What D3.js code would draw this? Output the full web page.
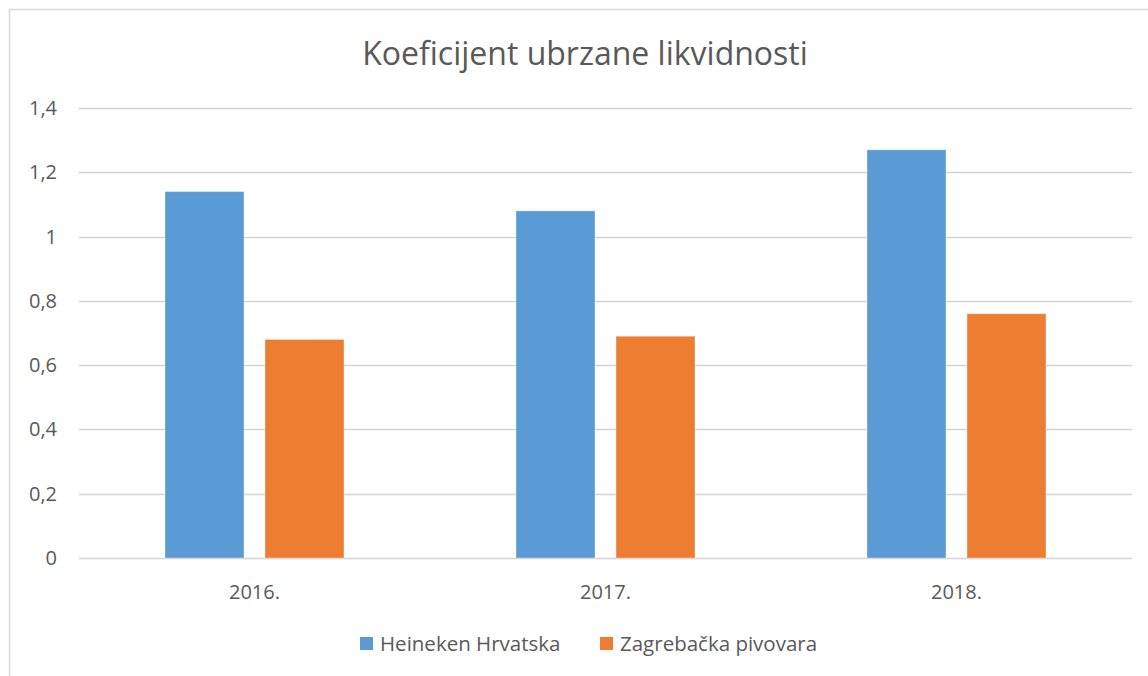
<!DOCTYPE html>
<html>
<head>
<meta charset="utf-8">
<script src="https://cdn.jsdelivr.net/npm/d3@7"></script>
<style>
  body { margin: 0; background: #fff; }
  text { font-family: "Open Sans", "Noto Sans", sans-serif; fill: #595959; }
</style>
</head>
<body>
<svg id="chart" width="1148" height="676"></svg>
<script>
// data
var years = ["2016.", "2017.", "2018."];
var seriesNames = ["Heineken Hrvatska", "Zagrebačka pivovara"];
var heineken = [1.14, 1.08, 1.27];
var zagrebacka = [0.68, 0.69, 0.76];
var yTicks = [0, 0.2, 0.4, 0.6, 0.8, 1, 1.2, 1.4];
var colors = ["#5B9BD5", "#ED7D31"];

var svg = d3.select("#chart");
var plotLeft = 79, plotRight = 1132, plotTop = 108, plotBottom = 558;

// chart border
svg.append("rect")
    .attr("x", 9.5).attr("y", 9.5)
    .attr("width", 1160).attr("height", 700)
    .style("fill", "none")
    .style("stroke", "#D9D9D9")
    .style("stroke-width", 1.5);

svg.append("text")
    .attr("x", 585).attr("y", 65)
    .attr("text-anchor", "middle")
    .style("font-size", "32px")
    .text("Koeficijent ubrzane likvidnosti");

var y = d3.scaleLinear().domain([0, 1.4]).range([plotBottom, plotTop]);
var x0 = d3.scaleBand().domain(years).range([plotLeft, plotRight]);
var x1 = d3.scaleBand().domain(seriesNames).range([86, x0.bandwidth() - 86]).paddingInner(0.21);

// gridlines
svg.append("g").selectAll("line")
    .data(yTicks)
    .enter().append("line")
    .attr("x1", plotLeft).attr("x2", plotRight)
    .attr("y1", function(d) { return Math.round(y(d)) + 0.5; })
    .attr("y2", function(d) { return Math.round(y(d)) + 0.5; })
    .style("stroke", "#D4D4D4")
    .style("stroke-width", 1.4);

svg.append("g").selectAll("text")
    .data(yTicks)
    .enter().append("text")
    .attr("x", 57)
    .attr("y", function(d) { return y(d) + 7; })
    .attr("text-anchor", "end")
    .style("font-size", "20px")
    .text(function(d) { return String(d).replace(".", ","); });

var rows = years.map(function(yr, i) {
    return { year: yr, vals: [heineken[i], zagrebacka[i]] };
});

var groups = svg.append("g").selectAll("g")
    .data(rows)
    .enter().append("g")
    .attr("transform", function(d) { return "translate(" + x0(d.year) + ",0)"; });

groups.selectAll("rect")
    .data(function(d) { return d.vals.map(function(v, j) { return { name: seriesNames[j], v: v, j: j }; }); })
    .enter().append("rect")
    .attr("x", function(d) { return x1(d.name); })
    .attr("y", function(d) { return y(d.v); })
    .attr("width", x1.bandwidth())
    .attr("height", function(d) { return plotBottom - y(d.v); })
    .style("fill", function(d) { return colors[d.j]; })
    .style("stroke", "#fff")
    .style("stroke-opacity", 0.35)
    .style("stroke-width", 1);

svg.append("g").selectAll("text")
    .data(years)
    .enter().append("text")
    .attr("x", function(d) { return x0(d) + x0.bandwidth() / 2; })
    .attr("y", 599)
    .attr("text-anchor", "middle")
    .style("font-size", "20px")
    .text(function(d) { return d; });

// legend
var legendX = [360, 600];
var legend = svg.append("g").selectAll("g")
    .data(seriesNames)
    .enter().append("g")
    .attr("transform", function(d, i) { return "translate(" + legendX[i] + ",637)"; });
legend.append("rect")
    .attr("width", 13).attr("height", 13)
    .style("fill", function(d, i) { return colors[i]; });
legend.append("text")
    .attr("x", 20).attr("y", 14)
    .style("font-size", "20.5px")
    .text(function(d) { return d; });
</script>
</body>
</html>
